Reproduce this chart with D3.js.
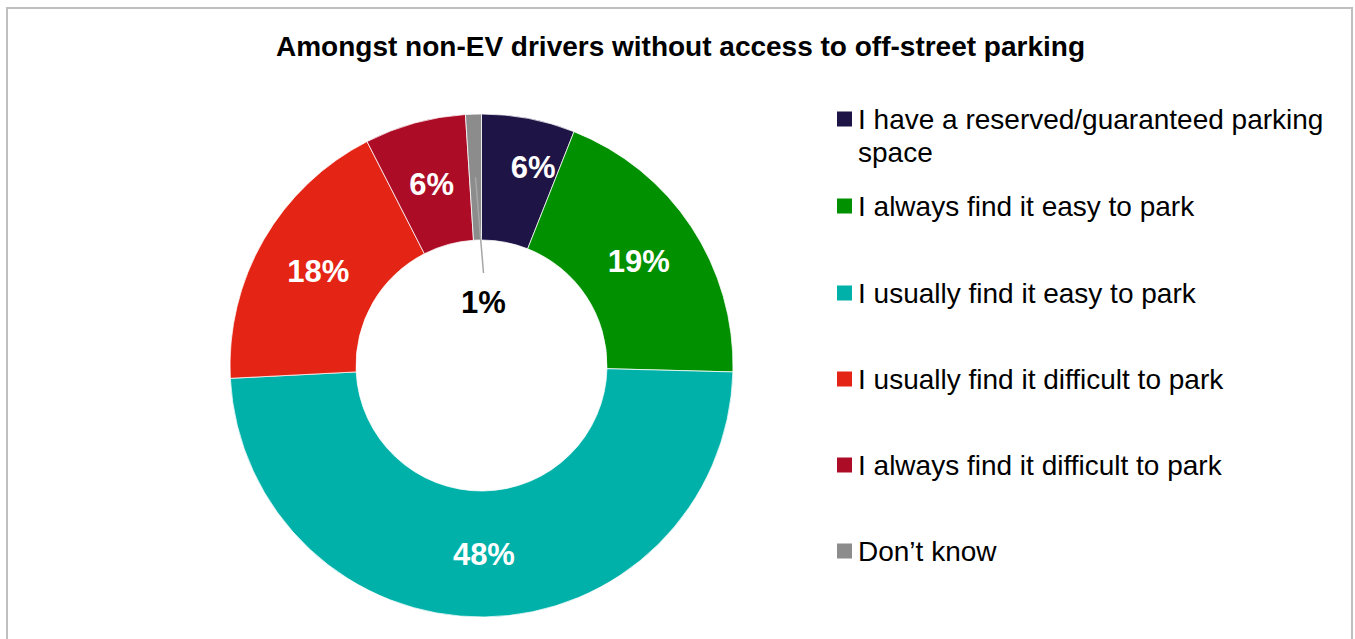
<!DOCTYPE html>
<html>
<head>
<meta charset="utf-8">
<script src="https://cdn.jsdelivr.net/npm/d3@7"></script>
<style>
  html, body { margin: 0; padding: 0; background: #ffffff; }
  svg { display: block; }
  text { font-family: Arial, "Liberation Sans", sans-serif; }
</style>
</head>
<body>
<script>
// Parking ease amongst non-EV drivers without off-street parking (percent of respondents)
const categories = [
  "I have a reserved/guaranteed parking space",
  "I always find it easy to park",
  "I usually find it easy to park",
  "I usually find it difficult to park",
  "I always find it difficult to park",
  "Don\u2019t know"
];
const values = [5.9, 19.1, 48.0, 18.0, 6.4, 1.0];
const colors = ["#1f1446", "#009000", "#00b1a9", "#e42414", "#ad0c26", "#8c8c8c"];
const chartTitle = "Amongst non-EV drivers without access to off-street parking";

const W = 1355, H = 639;
const svg = d3.select("body").append("svg").attr("width", W).attr("height", H);

// chart frame
svg.append("rect")
  .attr("x", 7).attr("y", 8).attr("width", 1345).attr("height", 700)
  .attr("fill", "none").attr("stroke", "#bfbfbf").attr("stroke-width", 2);

svg.append("text")
  .attr("x", 680.5).attr("y", 56)
  .attr("text-anchor", "middle")
  .attr("font-size", 28).attr("font-weight", "bold").attr("fill", "#000")
  .attr("textLength", 809).attr("lengthAdjust", "spacingAndGlyphs")
  .text(chartTitle);

const cx = 481.5, cy = 365.5, rOuter = 251.5, rInner = 125.5;
const g = svg.append("g").attr("transform", `translate(${cx},${cy})`);

const pie = d3.pie().sort(null).value(d => d);
const arcs = pie(values);
const arc = d3.arc().innerRadius(rInner).outerRadius(rOuter);
const labelArc = d3.arc().innerRadius((rInner + rOuter) / 2).outerRadius((rInner + rOuter) / 2);

g.selectAll("path.slice")
  .data(arcs)
  .join("path")
  .attr("class", "slice")
  .attr("d", arc)
  .attr("fill", (d, i) => colors[i])
  .attr("stroke", "#ffffff")
  .attr("stroke-width", 0.75);

const fmt = v => Math.round(v) + "%";

// in-slice labels (all but the tiny last slice)
const inside = arcs.slice(0, arcs.length - 1);
g.selectAll("text.val")
  .data(inside)
  .join("text")
  .attr("class", "val")
  .attr("transform", (d, i) => {
    const [x, y] = labelArc.centroid(d);
    // the first label sits a little further out, clear of the leader line
    const k = i === 0 ? 1.07 : 1;
    const dx = i === 0 ? 14 : 0;
    return `translate(${x * k + dx},${y * k})`;
  })
  .attr("text-anchor", "middle")
  .attr("dy", "0.35em")
  .attr("font-size", 31).attr("font-weight", "bold").attr("fill", "#ffffff")
  .text(d => fmt(d.data));

// small slice: label inside the hole with a leader line
const last = arcs[arcs.length - 1];
const [lx, ly] = labelArc.centroid(last);
const labelPos = [2, -63.5];
g.append("line")
  .attr("x1", lx).attr("y1", ly)
  .attr("x2", labelPos[0]).attr("y2", labelPos[1] - 29)
  .attr("stroke", "#a6a6a6").attr("stroke-width", 1.5);
g.append("text")
  .attr("x", labelPos[0]).attr("y", labelPos[1])
  .attr("text-anchor", "middle")
  .attr("dy", "0.35em")
  .attr("font-size", 31).attr("font-weight", "bold").attr("fill", "#000000")
  .text(fmt(last.data));

// legend
const legendX = 837, legendRowsY = [119, 206, 293, 379, 465, 551];
const legend = svg.append("g");
categories.forEach((c, i) => {
  const y = legendRowsY[i];
  legend.append("rect")
    .attr("x", legendX).attr("y", y - 7.5)
    .attr("width", 15).attr("height", 15)
    .attr("fill", colors[i]);
  const t = legend.append("text")
    .attr("x", legendX + 21).attr("y", y + 10)
    .attr("font-size", 28).attr("fill", "#000");
  if (i === 0) {
    t.append("tspan").attr("x", legendX + 21).text("I have a reserved/guaranteed parking");
    t.append("tspan").attr("x", legendX + 21).attr("dy", 33).text("space");
  } else {
    t.text(c);
  }
});
</script>
</body>
</html>
